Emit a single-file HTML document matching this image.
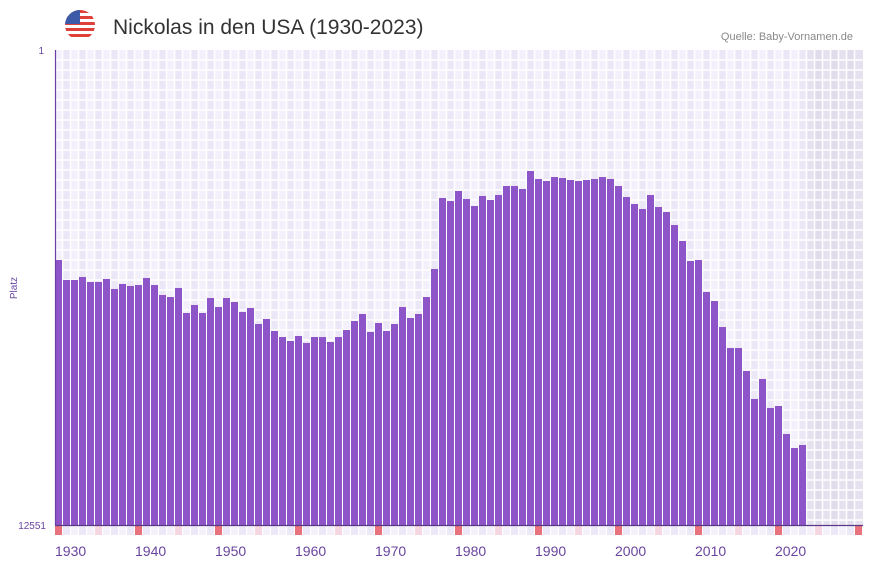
<!DOCTYPE html>
<html><head><meta charset="utf-8"><style>
body{margin:0;background:#fff;font-family:"Liberation Sans",sans-serif;}
svg{display:block}
</style></head><body>
<svg id="chart" width="873" height="567" xmlns="http://www.w3.org/2000/svg">
<defs><clipPath id="fc"><circle cx="80" cy="25" r="15"/></clipPath></defs>
<g clip-path="url(#fc)">
<rect x="65" y="10" width="30" height="30" fill="#fff"/>
<rect x="65" y="10" width="30" height="3" fill="#e0403a"/><rect x="65" y="16" width="30" height="3" fill="#e0403a"/><rect x="65" y="22" width="30" height="3" fill="#e0403a"/><rect x="65" y="28" width="30" height="3" fill="#e0403a"/><rect x="65" y="34" width="30" height="3" fill="#e0403a"/>
<rect x="65" y="10" width="15" height="14" fill="#3d5aa8"/>
</g>
<text x="113" y="34" font-size="21" fill="#333">Nickolas in den USA (1930-2023)</text>
<text x="853" y="40" font-size="11" fill="#888" text-anchor="end">Quelle: Baby-Vornamen.de</text>
<text x="44" y="54" font-size="10" fill="#6a45a0" text-anchor="end">1</text>
<text x="46" y="529" font-size="10" fill="#6a45a0" text-anchor="end">12551</text>
<text x="17" y="288" font-size="10" fill="#6a45a0" text-anchor="middle" transform="rotate(-90 17 288)">Platz</text>
<g id="grid"></g><g id="bars"></g><g id="strip"></g><g id="xlabels"></g>
<line x1="55.5" y1="50" x2="55.5" y2="525" stroke="#6a3fa8" stroke-width="1.2"/>
<line x1="55" y1="525.5" x2="863" y2="525.5" stroke="#5a3a88" stroke-width="1.2"/>
</svg>
<script>
const startYear = 1930;
const endYear = 2030;
const ranks = [5549,6078,6078,5998,6131,6131,6051,6315,6183,6236,6210,6025,6210,6474,6527,6289,6949,6738,6949,6553,6791,6553,6659,6923,6817,7240,7108,7425,7584,7689,7557,7742,7584,7584,7716,7584,7399,7161,6976,7451,7214,7425,7240,6791,7082,6976,6527,5787,3911,3990,3726,3938,4123,3858,3964,3832,3594,3594,3673,3198,3409,3462,3357,3383,3436,3462,3436,3409,3357,3409,3594,3885,4070,4202,3832,4149,4281,4625,5047,5576,5549,6395,6633,7320,7874,7874,8482,9221,8693,9459,9407,10147,10517,10437];
const xTickYears = [1930,1940,1950,1960,1970,1980,1990,2000,2010,2020];
const rankMin = 1, rankMax = 12551;
const NS = "http://www.w3.org/2000/svg";
const x0 = 55, slot = 8, yTop = 50, yBot = 525;
const xs = y => x0 + (y - startYear) * slot;
const ys = r => yTop + (r - rankMin) / (rankMax - rankMin) * (yBot - yTop);
function mk(tag, attrs, parent){const e=document.createElementNS(NS,tag);for(const k in attrs)e.setAttribute(k,attrs[k]);parent.appendChild(e);return e;}
const grid=document.getElementById('grid');
const lastData = startYear + ranks.length - 1;
for(let y=startYear;y<=endYear;y++){
  const future = y>lastData;
  const c = future ? ((y-startYear)%2?'#e1dcec':'#e5e1ef') : ((y-startYear)%2?'#ece7f7':'#f3f0fb');
  const col=mk('rect',{x:xs(y),y:yTop,width:slot,height:yBot-yTop,fill:c},grid);
  
  
}
for(let x=x0+slot;x<863;x+=slot){mk('line',{x1:x-0.5,y1:yTop,x2:x-0.5,y2:yBot,stroke:'#fff','stroke-width':1.5},grid);}
for(let y=yTop+10;y<yBot;y+=10){mk('line',{x1:x0,y1:y,x2:863,y2:y,stroke:'#fff','stroke-width':1.5},grid);}
const bars=document.getElementById('bars');
ranks.forEach((r,i)=>{
  const top=ys(r);
  const b=mk('rect',{x:xs(startYear+i),y:top,width:slot-1,height:yBot-top,fill:'#8e55c8'},bars);
  
  
});
const strip=document.getElementById('strip');
for(let y=startYear;y<=endYear;y++){
  const d=(y-startYear)%10;
  const c = d===0?'#e8737d':(d===5?'#f6d6e0':((y-startYear)%2?'#ede8f7':'#f4f1fb'));
  const s=mk('rect',{x:xs(y),y:526,width:slot-1,height:9,fill:c},strip);
  
  
}
const xl=document.getElementById('xlabels');
xTickYears.forEach(y=>{
  const t=mk('text',{x:xs(y),y:556,'font-size':14,fill:'#6a45a0'},xl);
  t.textContent=y;
  
  
});
</script>
</body></html>
